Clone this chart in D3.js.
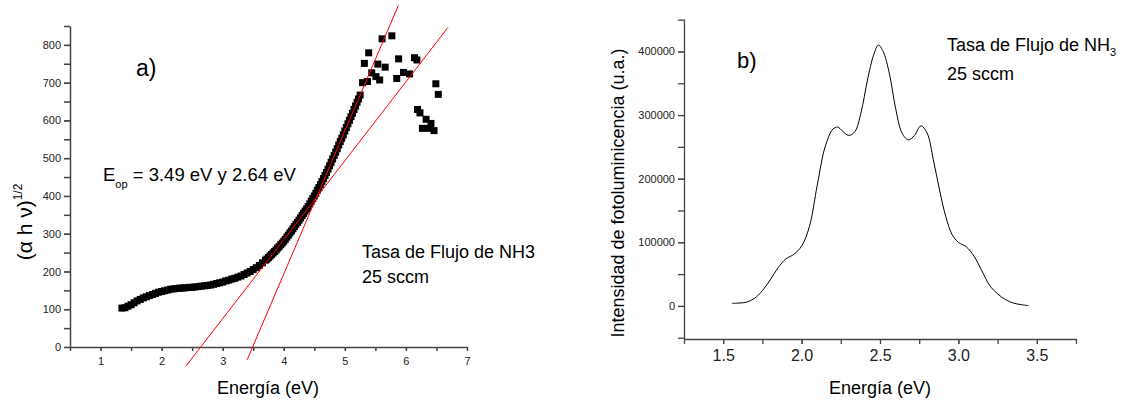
<!DOCTYPE html>
<html>
<head>
<meta charset="utf-8">
<script src="https://cdn.jsdelivr.net/npm/d3@7"></script>
<style>
	body { margin: 0; background: #fff; }
	svg { display: block; font-family: "Liberation Sans", Arial, sans-serif; }
	.axis path, .axis line { stroke: #444; }
	.axis text { fill: #222; }
</style>
</head>
<body>
<div id="main-view"></div>
<script>
// a) absorption: dense part of the curve
var absEnergy = [1.35, 1.40, 1.45, 1.50, 1.55, 1.60, 1.65, 1.70, 1.75, 1.80, 1.85, 1.90, 1.95, 2.00,
	2.05, 2.10, 2.15, 2.20, 2.25, 2.30, 2.35, 2.40, 2.45, 2.50, 2.55, 2.60, 2.65, 2.70, 2.75, 2.80,
	2.85, 2.90, 2.95, 3.00, 3.05, 3.10, 3.15, 3.20, 3.25, 3.30, 3.35, 3.40, 3.45, 3.50, 3.55, 3.60,
	3.65, 3.70, 3.75, 3.80, 3.85, 3.90, 3.95, 4.00, 4.05, 4.10, 4.15, 4.20, 4.25, 4.30, 4.35, 4.40,
	4.45, 4.50, 4.55, 4.60, 4.65, 4.70, 4.75, 4.80, 4.85, 4.90, 4.95, 5.00, 5.05, 5.10, 5.15, 5.20, 5.25];
var absValue = [103, 104, 108, 112, 117, 122, 126, 130, 133, 136, 139, 142, 145, 147,
	149, 151, 153, 154, 155, 156, 156, 157, 158, 158, 159, 160, 161, 162, 163, 164,
	166, 168, 170, 172, 175, 177, 180, 182, 185, 188, 192, 196, 200, 205, 210, 216,
	223, 230, 237, 245, 253, 262, 271, 280, 291, 302, 313, 325, 336, 348, 360, 372,
	386, 400, 415, 430, 446, 462, 480, 498, 516, 535, 553, 572, 591, 610, 629, 648, 667];

// a) extra points where the curve is steep
var absEnergyFine = [3.725, 3.775, 3.825, 3.875, 3.925, 3.975, 4.025, 4.075, 4.125, 4.175, 4.225, 4.275,
	4.325, 4.375, 4.425, 4.475, 4.525, 4.575, 4.625, 4.675, 4.725, 4.775, 4.825, 4.875,
	4.925, 4.975, 5.025, 5.075, 5.125, 5.175, 5.225];
var absValueFine = [233, 241, 249, 257, 266, 275, 285, 296, 307, 319, 330, 342,
	354, 366, 379, 393, 407, 422, 438, 454, 471, 489, 507, 525,
	544, 562, 581, 600, 619, 638, 657];

// a) scattered points at high energy
var scatterEnergy = [5.29, 5.32, 5.37, 5.39, 5.44, 5.51, 5.54, 5.57, 5.61, 5.66, 5.77, 5.85, 5.88,
	5.96, 6.06, 6.14, 6.18, 6.19, 6.23, 6.27, 6.33, 6.37, 6.41, 6.46, 6.49, 6.53];
var scatterValue = [700, 751, 703, 779, 726, 716, 749, 707, 816, 741, 824, 711, 763,
	727, 723, 766, 760, 629, 620, 579, 603, 579, 592, 573, 697, 669];

// a) tangent lines: band gaps, slopes and drawn extent
var fitGaps = [3.49, 2.64];
var fitSlopes = [379, 209];
var fitRanges = [[3.40, 5.876], [2.396, 6.69]];

// b) photoluminescence
var plEnergy = [1.556, 1.60, 1.65, 1.70, 1.75, 1.80, 1.85, 1.90, 1.95, 2.00, 2.05, 2.10, 2.15, 2.20,
	2.23, 2.26, 2.30, 2.34, 2.38, 2.42, 2.46, 2.49, 2.52, 2.56, 2.60, 2.64, 2.68, 2.72, 2.76,
	2.80, 2.84, 2.88, 2.92, 2.96, 3.00, 3.05, 3.10, 3.15, 3.20, 3.25, 3.30, 3.35, 3.40, 3.447];
var plIntensity = [4000, 4500, 6000, 12000, 24000, 41000, 60000, 74000, 81000, 94000, 125000, 190000, 250000, 278000,
	281000, 275000, 268000, 274000, 305000, 355000, 395000, 410000, 400000, 365000, 310000, 272000, 261000, 268000, 283000,
	272000, 230000, 182000, 140000, 112000, 100000, 93000, 78000, 55000, 32000, 19000, 10000, 4500, 2000, 500];

var leftXTicks = [1, 2, 3, 4, 5, 6, 7];
var leftYTicks = [0, 100, 200, 300, 400, 500, 600, 700, 800];
var rightXTicks = [1.5, 2.0, 2.5, 3.0, 3.5];
var rightYTicks = [0, 100000, 200000, 300000, 400000];

var W = 1129, H = 402;
var svg = d3.select('#main-view').append('svg')
	.attr('width', W)
	.attr('height', H);
svg.append('rect').attr('width', W).attr('height', H).attr('fill', '#fff');

drawLeft();
drawRight();

function drawLeft() {
	var x = d3.scaleLinear().domain([0.5, 7]).range([70, 467]);
	var y = d3.scaleLinear().domain([0, 850]).range([347, 26]);

	// minor ticks
	var xMinor = d3.range(0.5, 7.01, 0.5);
	var yMinor = d3.range(0, 851, 50);

	svg.append('g').attr('class', 'axis')
		.attr('transform', 'translate(0,347)')
		.call(d3.axisBottom(x).tickValues(xMinor).tickFormat('').tickSize(4).tickSizeOuter(0))
		.selectAll('path, line').style('stroke-width', 1.5);
	var xa = svg.append('g').attr('class', 'axis')
		.attr('transform', 'translate(0,347)')
		.call(d3.axisBottom(x).tickValues(leftXTicks).tickFormat(d3.format('d')).tickSize(4).tickPadding(6).tickSizeOuter(0));
	xa.select('.domain').remove();
	xa.selectAll('text').style('font-size', '11px');

	svg.append('g').attr('class', 'axis')
		.attr('transform', 'translate(70,0)')
		.call(d3.axisLeft(y).tickValues(yMinor).tickFormat('').tickSize(6).tickSizeOuter(0))
		.selectAll('path, line').style('stroke-width', 1.5);
	var ya = svg.append('g').attr('class', 'axis')
		.attr('transform', 'translate(70,0)')
		.call(d3.axisLeft(y).tickValues(leftYTicks).tickFormat(d3.format('d')).tickSize(6).tickPadding(3).tickSizeOuter(0));
	ya.select('.domain').remove();
	ya.selectAll('text').style('font-size', '11px');

	// data squares
	var pts = absEnergy.map(function(d, i) { return [d, absValue[i]]; })
		.concat(absEnergyFine.map(function(d, i) { return [d, absValueFine[i]]; }))
		.concat(scatterEnergy.map(function(d, i) { return [d, scatterValue[i]]; }));
	svg.append('g').selectAll('rect')
		.data(pts)
		.enter()
		.append('rect')
		.attr('x', function(d) { return x(d[0]) - 3.5; })
		.attr('y', function(d) { return y(d[1]) - 3.5; })
		.attr('width', 7)
		.attr('height', 7)
		.attr('fill', '#000');

	// red tangent lines
	fitGaps.forEach(function(g, i) {
		var r = fitRanges[i];
		svg.append('line')
			.attr('x1', x(r[0])).attr('y1', y(fitSlopes[i] * (r[0] - g)))
			.attr('x2', x(r[1])).attr('y2', y(fitSlopes[i] * (r[1] - g)))
			.attr('stroke', '#f00')
			.attr('stroke-width', 1);
	});

	svg.append('text')
		.attr('x', 268).attr('y', 394)
		.attr('text-anchor', 'middle')
		.style('font-size', '18px')
		.text('Energía (eV)');

	var yl = svg.append('text')
		.attr('transform', 'translate(32,222) rotate(-90)')
		.attr('text-anchor', 'middle')
		.style('font-size', '21px');
	yl.append('tspan').text('(α h ν)');
	yl.append('tspan').attr('dy', -10).style('font-size', '12px').text('1/2');

	svg.append('text')
		.attr('x', 136).attr('y', 76)
		.style('font-size', '23px')
		.text('a)');

	var eop = svg.append('text')
		.attr('x', 103).attr('y', 181)
		.style('font-size', '18.5px');
	eop.append('tspan').text('E');
	eop.append('tspan').attr('dy', 7).style('font-size', '11px').text('op');
	eop.append('tspan').attr('dy', -7).text(' = 3.49 eV y 2.64 eV');

	svg.append('text')
		.attr('x', 362).attr('y', 258)
		.style('font-size', '18px')
		.text('Tasa de Flujo de NH3');
	svg.append('text')
		.attr('x', 362).attr('y', 283)
		.style('font-size', '18px')
		.text('25 sccm');
}

function drawRight() {
	var x = d3.scaleLinear().domain([1.25, 3.75]).range([684, 1076]);
	var y = d3.scaleLinear().domain([-52000, 451000]).range([339, 19]);

	var xMinor = d3.range(1.25, 3.76, 0.25);
	var yMinor = d3.range(-50000, 451000, 50000);

	svg.append('g').attr('class', 'axis')
		.attr('transform', 'translate(0,339)')
		.call(d3.axisBottom(x).tickValues(xMinor).tickFormat('').tickSize(5).tickSizeOuter(0))
		.selectAll('path, line').style('stroke-width', 1.3);
	var xa = svg.append('g').attr('class', 'axis')
		.attr('transform', 'translate(0,339)')
		.call(d3.axisBottom(x).tickValues(rightXTicks).tickFormat(d3.format('.1f')).tickSize(5).tickPadding(6).tickSizeOuter(0));
	xa.select('.domain').remove();
	xa.selectAll('text').style('font-size', '16px');

	svg.append('g').attr('class', 'axis')
		.attr('transform', 'translate(684,0)')
		.call(d3.axisLeft(y).tickValues(yMinor).tickFormat('').tickSize(6).tickSizeOuter(0))
		.selectAll('path, line').style('stroke-width', 1.3);
	var ya = svg.append('g').attr('class', 'axis')
		.attr('transform', 'translate(684,0)')
		.call(d3.axisLeft(y).tickValues(rightYTicks).tickFormat(d3.format('d')).tickSize(6).tickPadding(3).tickSizeOuter(0));
	ya.select('.domain').remove();
	ya.selectAll('text').style('font-size', '11px');

	var line = d3.line()
		.x(function(d, i) { return x(plEnergy[i]); })
		.y(function(d) { return y(d); })
		.curve(d3.curveCatmullRom);
	svg.append('path')
		.datum(plIntensity)
		.attr('d', line)
		.attr('fill', 'none')
		.attr('stroke', '#000')
		.attr('stroke-width', 1);

	svg.append('text')
		.attr('x', 880).attr('y', 394)
		.attr('text-anchor', 'middle')
		.style('font-size', '18px')
		.text('Energía (eV)');

	svg.append('text')
		.attr('transform', 'translate(624,193) rotate(-90)')
		.attr('text-anchor', 'middle')
		.style('font-size', '18px')
		.text('Intensidad de fotoluminicencia (u.a.)');

	svg.append('text')
		.attr('x', 737).attr('y', 68)
		.style('font-size', '22px')
		.text('b)');

	var t = svg.append('text')
		.attr('x', 947).attr('y', 51)
		.style('font-size', '18px');
	t.append('tspan').text('Tasa de Flujo de NH');
	t.append('tspan').attr('dy', 5).style('font-size', '11px').text('3');
	svg.append('text')
		.attr('x', 947).attr('y', 80)
		.style('font-size', '18px')
		.text('25 sccm');
}
</script>
</body>
</html>
